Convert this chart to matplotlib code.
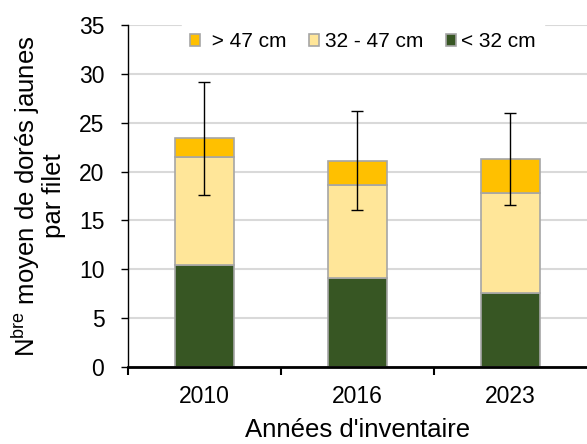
import numpy as np
import matplotlib
matplotlib.use("Agg")
from matplotlib import pyplot as plt

plt.rcParams["font.family"] = ["Liberation Sans", "DejaVu Sans"]

years = ["2010", "2016", "2023"]
small = [10.4, 9.1, 7.55]       # < 32 cm
medium = [11.05, 9.5, 10.25]    # 32 - 47 cm
large = [1.95, 2.5, 3.45]       # > 47 cm
err = [5.8, 5.05, 4.7]

x = np.arange(len(years))
totals = np.array(small) + np.array(medium) + np.array(large)

fig = plt.figure(figsize=(5.87, 4.44), dpi=100)
ax = fig.add_axes([0.218, 0.1734, 0.782, 0.7703])

edge = "#a6a6a6"
w = 0.39
b1 = ax.bar(x, small, w, color="#375623", edgecolor=edge, linewidth=1.2, label="< 32 cm", zorder=3)
b2 = ax.bar(x, medium, w, bottom=small, color="#ffe699", edgecolor=edge, linewidth=1.2,
            label="32 - 47 cm", zorder=3)
b3 = ax.bar(x, large, w, bottom=np.array(small) + np.array(medium), color="#ffc000",
            edgecolor=edge, linewidth=1.2, label=" > 47 cm", zorder=3)
ax.errorbar(x, totals, yerr=err, fmt="none", ecolor="black", elinewidth=1,
            capsize=4, capthick=1, zorder=4)

ax.set_xlim(-0.5, 2.5)
ax.set_ylim(0, 35)
ax.set_yticks(range(0, 36, 5))
ax.set_xticks([-0.5, 0.5, 1.5])
ax.set_xticklabels([])
ax.set_xticks(x, minor=True)
ax.set_xticklabels(years, minor=True, fontsize=16.5)
ax.tick_params(axis="x", which="minor", length=0, pad=13)
ax.tick_params(axis="x", which="major", length=6, width=1.5, direction="out")
ax.tick_params(axis="y", length=5, width=1, direction="out", labelsize=16.5, pad=12)

ax.grid(axis="y", color="#d9d9d9", linewidth=1.5, zorder=0)
ax.set_axisbelow(True)
for s in ["top", "right"]:
    ax.spines[s].set_visible(False)
ax.spines["left"].set_linewidth(1)
ax.spines["bottom"].set_linewidth(2)
ax.spines["bottom"].set_zorder(5)

ax.set_ylabel("N$^{\\mathregular{bre}}$ moyen de dorés jaunes\npar filet", fontsize=18.5, labelpad=9,
              linespacing=1.0)
ax.set_xlabel("Années d'inventaire", fontsize=18.5, labelpad=7)

leg = ax.legend(handles=[b3, b2, b1], ncol=3, loc="upper center", bbox_to_anchor=(0.512, 1.022),
                frameon=True, fancybox=False, edgecolor="white", framealpha=1,
                fontsize=15, handlelength=0.5, handleheight=0.5, handletextpad=0.25,
                columnspacing=1.1, borderpad=0.4, borderaxespad=0.3)
leg.set_zorder(6)

plt.savefig("out.png", dpi=100)
plt.close()
